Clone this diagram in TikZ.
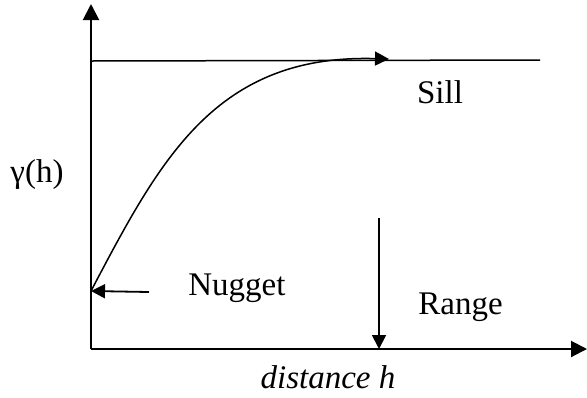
\documentclass[tikz,border=0pt]{standalone}
\usepackage{fontspec}
\setmainfont{Liberation Serif}
\usetikzlibrary{arrows.meta}

\tikzset{
  axisline/.style={line width=1pt, -{Triangle[length=8pt,width=8pt]}},
  thinline/.style={line width=0.75pt},
  pointer/.style={line width=0.9pt, -{Triangle[length=7pt,width=7pt]}},
  lbl/.style={font=\fontsize{16.5}{20}\selectfont, inner sep=0pt}
}

\begin{document}
\begin{tikzpicture}[x=0.5pt, y=-0.5pt]
  \useasboundingbox (0,0) rectangle (587,397);

  % Axes
  \coordinate (O) at (91,349);
  \coordinate (ytop) at (91,4);
  \coordinate (xend) at (587,349);
  \draw[axisline] (O) -- (ytop);
  \draw[axisline] (O) -- (xend);

  % Sill level
  \coordinate (sillstart) at (91,61);
  \coordinate (sillend) at (540,60);
  \draw[thinline] (sillstart) -- (sillend);

  % Variogram curve from nugget up to the sill
  \coordinate (nug) at (91,291);
  \coordinate (sillpt) at (389,59);
  \draw[thinline, -{Triangle[length=7pt,width=7pt]}]
    (nug) .. controls (160,160) and (215,54) .. (sillpt);

  % Labels
  \node[lbl] (gamma) at (37,175) {γ(h)};
  \node[lbl] (sill) at (440,92) {Sill};
  \node[lbl, anchor=base west] (nugget) at (188,295) {Nugget};
  \node[lbl, anchor=base west] (range) at (418,314) {Range};
  \node[lbl, font=\fontsize{16.5}{20}\selectfont\itshape, anchor=base] (dist) at (328,388) {distance h};

  % Nugget and range pointers
  \coordinate (nugtail) at (149,292);
  \draw[pointer] (nugtail) -- (nug);
  \coordinate (rangetop) at (379,218);
  \coordinate (rangefoot) at (379,349);
  \draw[pointer] (rangetop) -- (rangefoot);
\end{tikzpicture}
\end{document}
